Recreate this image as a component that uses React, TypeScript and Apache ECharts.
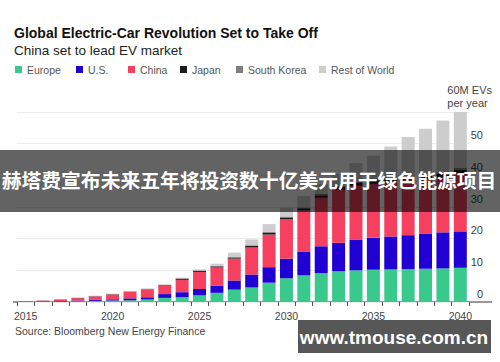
import React, { useEffect, useRef } from 'react';
import * as echarts from 'echarts';

const years = ['2015','2016','2017','2018','2019','2020','2021','2022','2023','2024','2025','2026','2027','2028','2029','2030','2031','2032','2033','2034','2035','2036','2037','2038','2039','2040'];
const europe = [0.08,0.12,0.18,0.25,0.35,0.45,0.55,0.8,1.3,1.5,2.1,2.9,3.9,4.6,6.1,7.5,8.4,9.1,9.7,10.0,10.2,10.3,10.4,10.5,10.6,10.8];
const us = [0.08,0.1,0.15,0.22,0.3,0.4,0.6,0.7,1.2,1.6,2.0,2.3,2.9,4.1,4.9,6.2,7.4,8.5,9.0,9.6,10.1,10.4,10.7,11.0,11.4,11.5];
const china = [0.12,0.22,0.45,0.75,1.1,1.5,2.05,2.4,2.7,3.9,5.4,5.7,6.9,8.5,10.3,12.4,13.1,15.3,16.7,17.1,17.0,17.3,17.5,17.4,17.5,18.2];
const japan = [0.02,0.03,0.04,0.06,0.08,0.1,0.1,0.12,0.15,0.35,0.35,0.35,0.35,0.5,0.6,0.6,0.7,0.8,0.9,0.9,0.9,0.9,0.9,0.9,1.0,1.2];
const southKorea = [0.01,0.01,0.02,0.03,0.04,0.05,0.05,0.06,0.05,0.15,0.15,0.15,0.15,0.2,0.3,0.3,0.3,0.4,0.4,0.4,0.4,0.4,0.4,0.4,0.5,0.6];
const restOfWorld = [0.02,0.03,0.06,0.09,0.13,0.15,0.15,0.22,0.2,0.2,0.3,0.7,1.4,1.8,2.4,2.8,3.6,3.2,3.8,5.9,7.6,9.8,12.2,14.5,16.3,17.7];
const yTicks = [0, 10, 20, 30, 40, 50, 60];

const seriesDefs = [
  { name: 'Europe', data: europe, color: '#39c98d' },
  { name: 'U.S.', data: us, color: '#2000d2' },
  { name: 'China', data: china, color: '#f5405f' },
  { name: 'Japan', data: japan, color: '#1c1c1c' },
  { name: 'South Korea', data: southKorea, color: '#7e7e7e' },
  { name: 'Rest of World', data: restOfWorld, color: '#cdcdcd' },
];
const legendLeft = [15, 76, 128, 180, 236, 319];

const FONT = '"Liberation Sans", Arial, Helvetica, sans-serif';

export default function App() {
  const ref = useRef<HTMLDivElement>(null);
  useEffect(() => {
    const chart = echarts.init(ref.current!, null, { renderer: 'svg' });
    const option: any = {
      animation: false,
      backgroundColor: '#ffffff',
      textStyle: { fontFamily: FONT },
      grid: { left: 17, right: 31, top: 112, bottom: 60 },
      legend: seriesDefs.map((s, i) => ({
        data: [s.name],
        left: legendLeft[i],
        top: 64,
        padding: 0,
        icon: 'rect',
        itemWidth: 7,
        itemHeight: 7,
        textStyle: { fontSize: 10.5, color: '#555', fontFamily: FONT },
        selectedMode: false,
      })),
      xAxis: {
        type: 'category',
        data: years,
        boundaryGap: true,
        axisLine: { show: false },
        axisTick: { show: true, interval: 0, length: 4, lineStyle: { color: '#555' } },
        axisLabel: { interval: 4, fontSize: 10.5, color: '#444', margin: 8, fontFamily: FONT },
        splitLine: { show: false },
      },
      yAxis: {
        type: 'value',
        position: 'right',
        min: yTicks[0],
        max: yTicks[yTicks.length - 1],
        interval: 10,
        axisLine: { show: false },
        axisTick: { show: false },
        axisLabel: {
          fontSize: 11,
          color: '#444',
          align: 'right',
          verticalAlign: 'bottom',
          margin: 14,
          padding: [0, 0, 3, 0],
          fontFamily: FONT,
          formatter: (v: number) => (v === yTicks[yTicks.length - 1] ? '' : String(v)),
        },
        splitLine: { show: true, lineStyle: { color: '#ebebeb', width: 1 } },
      },
      series: seriesDefs.map((s) => ({
        name: s.name,
        type: 'bar',
        stack: 'total',
        barWidth: 13,
        data: s.data,
        itemStyle: { color: s.color },
        emphasis: { disabled: true },
      })),
      graphic: [
        { type: 'text', left: 14, top: 26, style: { text: 'Global Electric-Car Revolution Set to Take Off', font: `bold 14px ${FONT}`, fill: '#111' } },
        { type: 'text', left: 14, top: 43, style: { text: 'China set to lead EV market', font: `13.5px ${FONT}`, fill: '#222' } },
        { type: 'text', right: 8, top: 84, style: { text: '60M EVs\nper year', font: `11px ${FONT}`, fill: '#444', align: 'right', lineHeight: 12.6 } },
        { type: 'line', shape: { x1: 13, y1: 302, x2: 492, y2: 302 }, style: { stroke: '#333', lineWidth: 1 } },
        { type: 'text', left: 15, top: 325, style: { text: 'Source: Bloomberg New Energy Finance', font: `10.5px ${FONT}`, fill: '#444' } },
        { type: 'rect', shape: { x: 0, y: 150, width: 500, height: 62 }, z: 100, style: { fill: 'rgba(0,0,0,0.61)' } },
        { type: 'text', x: 249, y: 179, z: 101, style: { text: '赫塔费宣布未来五年将投资数十亿美元用于绿色能源项目', font: 'bold 19.8px "Noto Sans CJK SC", sans-serif', fill: '#ffffff', align: 'center', verticalAlign: 'middle' } },
        { type: 'rect', shape: { x: 298, y: 320, width: 193, height: 33 }, z: 100, style: { fill: 'rgba(0,0,0,0.66)' } },
        { type: 'text', x: 394, y: 337, z: 101, style: { text: 'www.tmouse.com.cn', font: `bold 19px ${FONT}`, fill: '#ffffff', align: 'center', verticalAlign: 'middle' } },
      ],
    };
    chart.setOption(option);
    return () => chart.dispose();
  }, []);
  return <div ref={ref} style={{ position: 'fixed', left: 0, top: 0, width: 500, height: 362, background: '#fff' }} />;
}
